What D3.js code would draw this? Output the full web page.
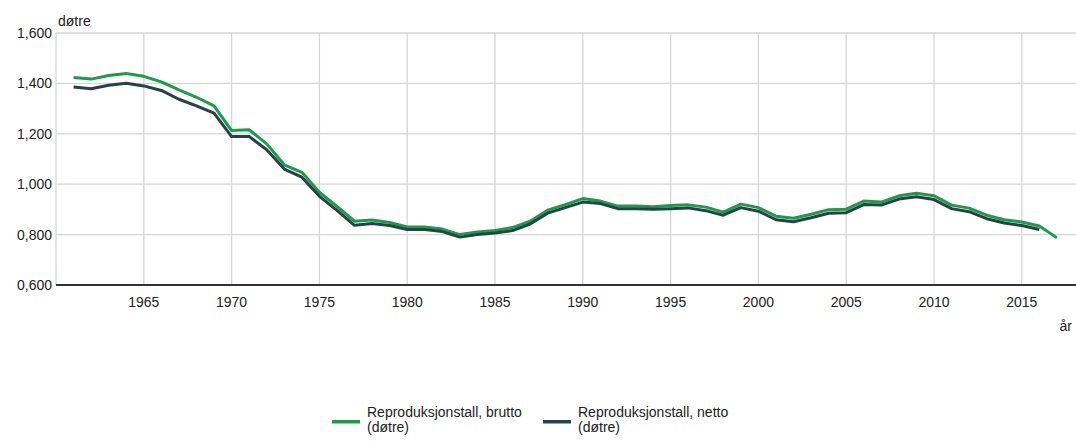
<!DOCTYPE html>
<html lang="no">
<head>
    <meta charset="UTF-8">
    <title>Reproduksjonstall</title>
    <script src="https://d3js.org/d3.v7.min.js"></script>
    <style>
        body {
            margin: 0;
            background: #fff;
            font-family: Arial, 'Liberation Sans', sans-serif;
        }
        .grid line {
            stroke: #d6d6d6;
            stroke-width: 1.3px;
        }
        .tick-label {
            font-size: 14px;
            fill: #222;
        }
        .legend-text {
            font-size: 14px;
            fill: #222;
        }
    </style>
</head>
<body>
    <div id="chart"></div>

    <script>
        // data
        const years = d3.range(1961, 2018);
        const brutto = [
            1.423, 1.417, 1.431, 1.439, 1.428, 1.406, 1.374, 1.345, 1.311, 1.213,
            1.216, 1.160, 1.077, 1.047, 0.968, 0.912, 0.853, 0.858, 0.848, 0.830,
            0.830, 0.822, 0.800, 0.810, 0.816, 0.828, 0.853, 0.897, 0.919, 0.943,
            0.933, 0.913, 0.913, 0.911, 0.915, 0.918, 0.909, 0.889, 0.921, 0.907,
            0.873, 0.865, 0.881, 0.899, 0.901, 0.933, 0.929, 0.954, 0.964, 0.954,
            0.917, 0.905, 0.877, 0.859, 0.850, 0.834, 0.787
        ];
        const netto = [
            1.386, 1.379, 1.393, 1.401, 1.390, 1.372, 1.337, 1.311, 1.282, 1.189,
            1.189, 1.137, 1.060, 1.028, 0.952, 0.896, 0.837, 0.844, 0.836, 0.820,
            0.820, 0.812, 0.790, 0.800, 0.806, 0.816, 0.842, 0.885, 0.907, 0.929,
            0.923, 0.903, 0.903, 0.901, 0.903, 0.906, 0.895, 0.877, 0.907, 0.893,
            0.859, 0.851, 0.867, 0.885, 0.887, 0.919, 0.917, 0.941, 0.950, 0.939,
            0.903, 0.891, 0.863, 0.846, 0.836, 0.820
        ];
        const xTicks = [1965, 1970, 1975, 1980, 1985, 1990, 1995, 2000, 2005, 2010, 2015];
        const yTicks = [0.6, 0.8, 1.0, 1.2, 1.4, 1.6];
        const seriesNames = ["Reproduksjonstall, brutto", "Reproduksjonstall, netto"];
        const seriesColors = ["#1a9d49", "#274247"];

        const width = 1076;
        const height = 441;

        const svg = d3.select("#chart")
            .append("svg")
            .attr("width", width)
            .attr("height", height);

        const x = d3.scaleLinear().domain([1960, 2018]).range([56, 1074.5]);
        const y = d3.scaleLinear().domain([0.6, 1.6]).range([285, 33]);

        const fmt = v => d3.format(".3f")(v).replace(".", ",");

        // horizontal grid
        svg.append("g").attr("class", "grid")
            .selectAll("line")
            .data(yTicks.slice(1))
            .join("line")
            .attr("x1", 56).attr("x2", width)
            .attr("y1", d => y(d))
            .attr("y2", d => y(d));

        // vertical grid
        svg.append("g").attr("class", "grid")
            .selectAll("line")
            .data([1960].concat(xTicks))
            .join("line")
            .attr("x1", d => x(d))
            .attr("x2", d => x(d))
            .attr("y1", 33).attr("y2", 285);

        // baseline
        svg.append("line")
            .attr("x1", 56).attr("x2", width)
            .attr("y1", y(0.6)).attr("y2", y(0.6))
            .attr("stroke", "#333")
            .attr("stroke-width", 2);

        // y labels
        svg.append("g")
            .selectAll("text")
            .data(yTicks)
            .join("text")
            .attr("class", "tick-label")
            .attr("x", 52)
            .attr("y", d => y(d))
            .attr("dy", "0.35em")
            .attr("text-anchor", "end")
            .text(fmt);

        // x labels
        svg.append("g")
            .selectAll("text")
            .data(xTicks)
            .join("text")
            .attr("class", "tick-label")
            .attr("x", d => x(d))
            .attr("y", 302)
            .attr("dy", "0.35em")
            .attr("text-anchor", "middle")
            .text(d => d);

        svg.append("text")
            .attr("class", "tick-label")
            .attr("x", 58).attr("y", 21).attr("dy", "0.35em")
            .text("døtre");

        svg.append("text")
            .attr("class", "tick-label")
            .attr("x", 1072).attr("y", 326).attr("dy", "0.35em")
            .attr("text-anchor", "end")
            .text("år");

        // lines
        const line = d3.line()
            .x((d, i) => x(years[i]))
            .y(d => y(d));

        [brutto, netto].forEach((vals, i) => {
            svg.append("path")
                .datum(vals)
                .attr("fill", "none")
                .attr("stroke", seriesColors[i])
                .attr("stroke-width", 3)
                .attr("stroke-linejoin", "round")
                .attr("d", line);
        });

        // legend
        const legendX = [332, 543];
        seriesNames.forEach((name, i) => {
            const g = svg.append("g").attr("transform", `translate(${legendX[i]},0)`);
            g.append("rect")
                .attr("x", 0).attr("y", 420)
                .attr("width", 28).attr("height", 3.5)
                .attr("fill", seriesColors[i]);
            const t = g.append("text").attr("class", "legend-text");
            t.append("tspan").attr("x", 35).attr("y", 416.5).text(name);
            t.append("tspan").attr("x", 35).attr("y", 431.5).text("(døtre)");
        });
    </script>
</body>
</html>
